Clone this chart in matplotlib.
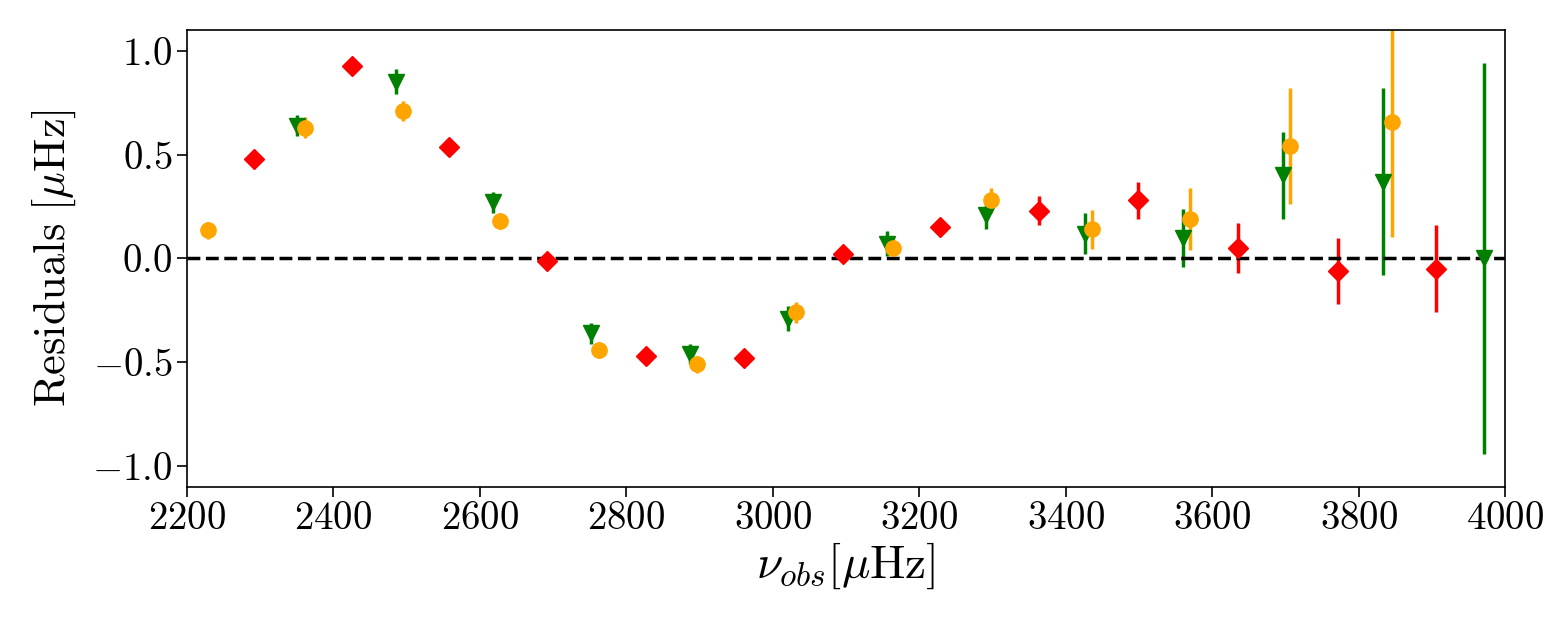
import matplotlib
matplotlib.use("Agg")
import matplotlib.pyplot as plt
from matplotlib.ticker import FuncFormatter

plt.rcParams['mathtext.fontset'] = 'cm'
plt.rcParams['font.family'] = ['cmr10', 'DejaVu Serif']
plt.rcParams['axes.formatter.use_mathtext'] = True

# l=0 modes (orange circles)
nu_l0 = [2229, 2361, 2495, 2627, 2763, 2897, 3032, 3164, 3298, 3436, 3570, 3706, 3846]
res_l0 = [0.135, 0.63, 0.71, 0.18, -0.44, -0.51, -0.26, 0.05, 0.28, 0.14, 0.19, 0.54, 0.655]
err_l0 = [0.04, 0.05, 0.05, 0.04, 0.04, 0.04, 0.05, 0.05, 0.06, 0.095, 0.15, 0.28, 0.55]

# l=1 modes (red diamonds)
nu_l1 = [2292, 2425, 2558, 2692, 2827, 2961, 3096, 3228, 3364, 3499, 3635, 3772, 3906]
res_l1 = [0.48, 0.925, 0.535, -0.01, -0.47, -0.48, 0.02, 0.15, 0.23, 0.28, 0.05, -0.06, -0.05]
err_l1 = [0.02, 0.02, 0.02, 0.02, 0.02, 0.02, 0.03, 0.04, 0.07, 0.09, 0.12, 0.16, 0.21]

# l=2 modes (green triangles)
nu_l2 = [2350, 2485, 2618, 2752, 2887, 3021, 3156, 3291, 3426, 3560, 3697, 3833, 3971]
res_l2 = [0.64, 0.85, 0.27, -0.36, -0.46, -0.29, 0.07, 0.21, 0.12, 0.10, 0.40, 0.37, 0.0]
err_l2 = [0.05, 0.06, 0.05, 0.05, 0.05, 0.06, 0.06, 0.07, 0.10, 0.14, 0.21, 0.45, 0.94]

fig = plt.figure(figsize=(15.63, 6.25), dpi=100)
ax = fig.add_axes([0.1196, 0.221, 0.8434, 0.731])

ax.errorbar(nu_l2, res_l2, yerr=err_l2, fmt='v', color='green', ms=11, elinewidth=2.5, capsize=0)
ax.errorbar(nu_l0, res_l0, yerr=err_l0, fmt='o', color='orange', ms=11, elinewidth=2.5, capsize=0)
ax.errorbar(nu_l1, res_l1, yerr=err_l1, fmt='D', color='red', ms=10.5, elinewidth=2.5, capsize=0)
ax.axhline(0, color='black', ls='--', lw=2.5)

ax.set_xlim(2200, 4000)
ax.set_ylim(-1.1, 1.1)
ax.set_xticks(range(2200, 4001, 200))
ax.set_yticks([-1.0, -0.5, 0.0, 0.5, 1.0])
ax.xaxis.set_major_formatter(FuncFormatter(lambda v, p: r'$%d$' % v))
ax.yaxis.set_major_formatter(FuncFormatter(lambda v, p: r'$%.1f$' % v))
ax.tick_params(labelsize=28, length=7, width=1.2)
for s in ax.spines.values():
    s.set_linewidth(1.2)

ax.set_xlabel(r'$\nu_{obs}[\mu\mathrm{Hz}]$', fontsize=34, labelpad=2)
ax.set_ylabel(r'$\mathrm{Residuals}\ [\mu\mathrm{Hz}]$', fontsize=32, labelpad=10)

fig.savefig('out.png', dpi=100)
